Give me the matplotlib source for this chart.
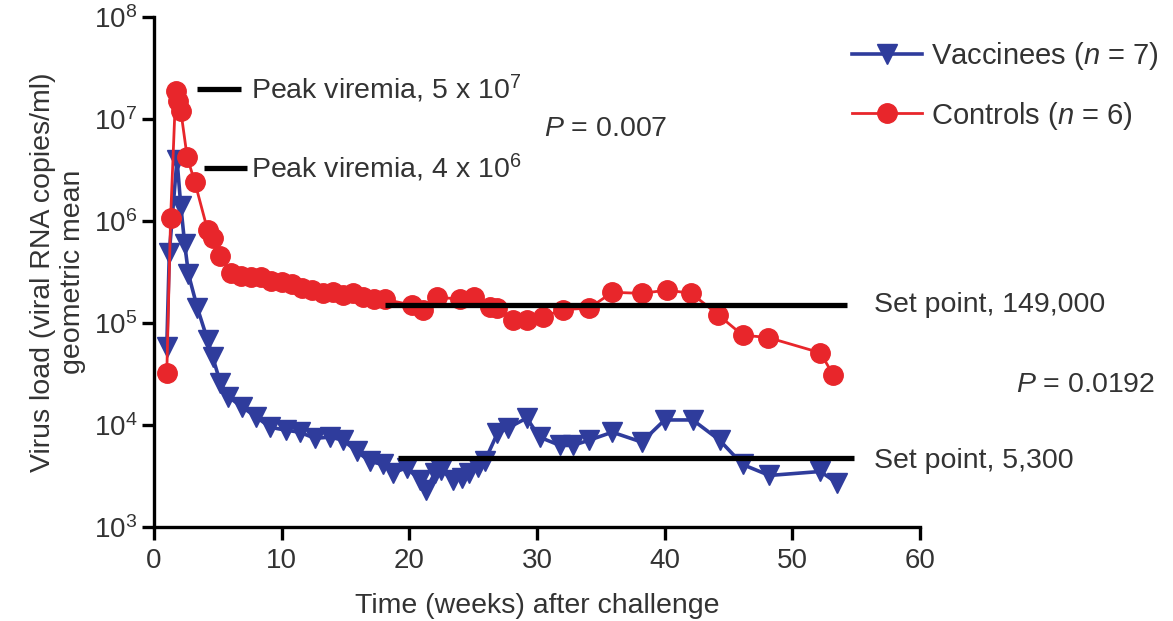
import matplotlib
matplotlib.use("Agg")
import matplotlib.pyplot as plt
from matplotlib.ticker import FixedLocator, FixedFormatter

plt.rcParams['font.family'] = ['Liberation Sans', 'DejaVu Sans']
plt.rcParams['mathtext.fontset'] = 'custom'
plt.rcParams['mathtext.rm'] = 'Liberation Sans'
plt.rcParams['mathtext.it'] = 'Liberation Sans:italic'

# vaccinees (n = 7), geometric mean viral load
vacc_weeks = [1.0, 1.2, 1.8, 2.1, 2.4, 2.7, 3.4, 4.2, 4.6, 5.2, 5.8, 6.9, 8.0,
              9.1, 10.3, 11.4, 12.6, 13.8, 14.8, 15.9, 16.9, 17.9, 18.7, 19.8,
              20.8, 21.3, 22.0, 22.5, 23.4, 24.1, 24.7, 25.4, 25.9, 26.9, 27.7,
              29.2, 30.2, 31.8, 32.8, 34.1, 35.9, 38.2, 40.0, 42.2, 44.3, 46.1,
              48.2, 52.2, 53.5]
vacc_load = [5.8e4, 4.9e5, 4.0e6, 1.4e6, 6.0e5, 3.0e5, 1.4e5, 6.8e4, 4.6e4,
             2.6e4, 1.9e4, 1.5e4, 1.2e4, 9.5e3, 8.9e3, 8.5e3, 7.4e3, 7.6e3,
             7.1e3, 5.5e3, 4.4e3, 4.1e3, 3.4e3, 3.8e3, 2.9e3, 2.3e3, 3.4e3,
             3.6e3, 2.9e3, 3.0e3, 3.4e3, 3.9e3, 4.4e3, 8.3e3, 9.3e3, 1.17e4,
             7.6e3, 6.3e3, 6.3e3, 7.1e3, 8.5e3, 6.8e3, 1.12e4, 1.12e4, 7.1e3,
             4.1e3, 3.2e3, 3.5e3, 2.7e3]

# controls (n = 6)
ctrl_weeks = [1.0, 1.3, 1.7, 1.9, 2.1, 2.6, 3.2, 4.2, 4.6, 5.2, 6.0, 6.8, 7.6,
              8.4, 9.2, 10.0, 10.8, 11.6, 12.4, 13.2, 14.0, 14.8, 15.6, 16.4,
              17.2, 18.1, 20.2, 21.1, 22.2, 24.0, 25.1, 26.3, 26.9, 28.1, 29.2,
              30.5, 32.0, 34.1, 35.9, 38.2, 40.2, 42.1, 44.2, 46.1, 48.1, 52.2,
              53.2]
ctrl_load = [3.2e4, 1.07e6, 1.9e7, 1.5e7, 1.2e7, 4.2e6, 2.4e6, 8.1e5, 6.8e5,
             4.5e5, 3.1e5, 2.9e5, 2.8e5, 2.8e5, 2.6e5, 2.5e5, 2.4e5, 2.2e5,
             2.1e5, 1.95e5, 2.0e5, 1.9e5, 1.95e5, 1.8e5, 1.7e5, 1.7e5, 1.5e5,
             1.35e5, 1.8e5, 1.7e5, 1.8e5, 1.45e5, 1.4e5, 1.07e5, 1.07e5,
             1.15e5, 1.35e5, 1.4e5, 2.0e5, 1.95e5, 2.1e5, 1.95e5, 1.2e5, 7.6e4,
             7.2e4, 5.1e4, 3.1e4]

# set points and peak marks
ctrl_set_point = 149000
vacc_set_point = 4700
ctrl_set_span = [18.1, 54.3]
vacc_set_span = [19.1, 54.8]
ctrl_peak_mark = 1.95e7
vacc_peak_mark = 3.3e6

y_ticks = [1e3, 1e4, 1e5, 1e6, 1e7, 1e8]
y_tick_labels = ['$10^3$', '$10^4$', '$10^5$', '$10^6$', '$10^7$', '$10^8$']
x_ticks = [0, 10, 20, 30, 40, 50, 60]

text_col = '#333333'
blue = '#2f3c9c'
red = '#e8262b'

fig = plt.figure(figsize=(11.73, 6.21), dpi=100)
ax = fig.add_axes([0.1313, 0.1514, 0.653, 0.8213])

ax.plot(vacc_weeks, vacc_load, color=blue, lw=2.6, marker='v', ms=14,
        mec=blue, mfc=blue, zorder=3, label='Vaccinees ($n$ = 7)')
ax.plot(ctrl_weeks, ctrl_load, color=red, lw=2.0, marker='o', ms=14,
        mec=red, mfc=red, zorder=4, label='Controls ($n$ = 6)')

ax.plot(ctrl_set_span, [ctrl_set_point] * 2, color='black', lw=3.8, zorder=5,
        solid_capstyle='butt')
ax.plot(vacc_set_span, [vacc_set_point] * 2, color='black', lw=3.8, zorder=5,
        solid_capstyle='butt')
ax.plot([3.4, 6.8], [ctrl_peak_mark] * 2, color='black', lw=3.8, zorder=5,
        solid_capstyle='butt')
ax.plot([3.9, 7.3], [vacc_peak_mark] * 2, color='black', lw=3.8, zorder=5,
        solid_capstyle='butt')

fs = 20.5
ax.text(7.6, ctrl_peak_mark, 'Peak viremia, 5 x 10$^7$', fontsize=fs,
        color=text_col, va='center', ha='left')
ax.text(7.6, vacc_peak_mark, 'Peak viremia, 4 x 10$^6$', fontsize=fs,
        color=text_col, va='center', ha='left')
ax.text(35.4, 8.0e6, '$P$ = 0.007', fontsize=fs, color=text_col,
        va='center', ha='center')
ax.text(56.4, ctrl_set_point, 'Set point, 149,000', fontsize=fs,
        color=text_col, va='center', ha='left', clip_on=False)
ax.text(56.4, vacc_set_point * 0.95, 'Set point, 5,300', fontsize=fs,
        color=text_col, va='center', ha='left', clip_on=False)
ax.text(73.0, 2.45e4, '$P$ = 0.0192', fontsize=fs, color=text_col,
        va='center', ha='center', clip_on=False)

ax.set_yscale('log')
ax.set_ylim(1e3, 1e8)
ax.set_xlim(0, 60)
ax.yaxis.set_major_locator(FixedLocator(y_ticks))
ax.yaxis.set_major_formatter(FixedFormatter(y_tick_labels))
ax.yaxis.set_minor_locator(FixedLocator([]))
ax.set_xticks(x_ticks)

for side in ['top', 'right']:
    ax.spines[side].set_visible(False)
for side in ['left', 'bottom']:
    ax.spines[side].set_linewidth(2.4)
ax.tick_params(axis='both', direction='out', length=9, width=2.4,
               colors='black', labelcolor=text_col)
ax.tick_params(axis='x', labelsize=20, pad=6)
ax.tick_params(axis='y', labelsize=20, pad=3)

ax.set_xlabel('Time (weeks) after challenge', fontsize=fs, color=text_col,
              labelpad=14)
ax.set_ylabel('Virus load (viral RNA copies/ml)\ngeometric mean', fontsize=fs,
              color=text_col, linespacing=1.2, labelpad=6)

fig.legend(loc='upper left', bbox_to_anchor=(0.704, 0.978), frameon=False,
           fontsize=21, handlelength=2.4, handletextpad=0.3, labelspacing=0.95,
           labelcolor=text_col)

fig.savefig('out.png', dpi=100)
